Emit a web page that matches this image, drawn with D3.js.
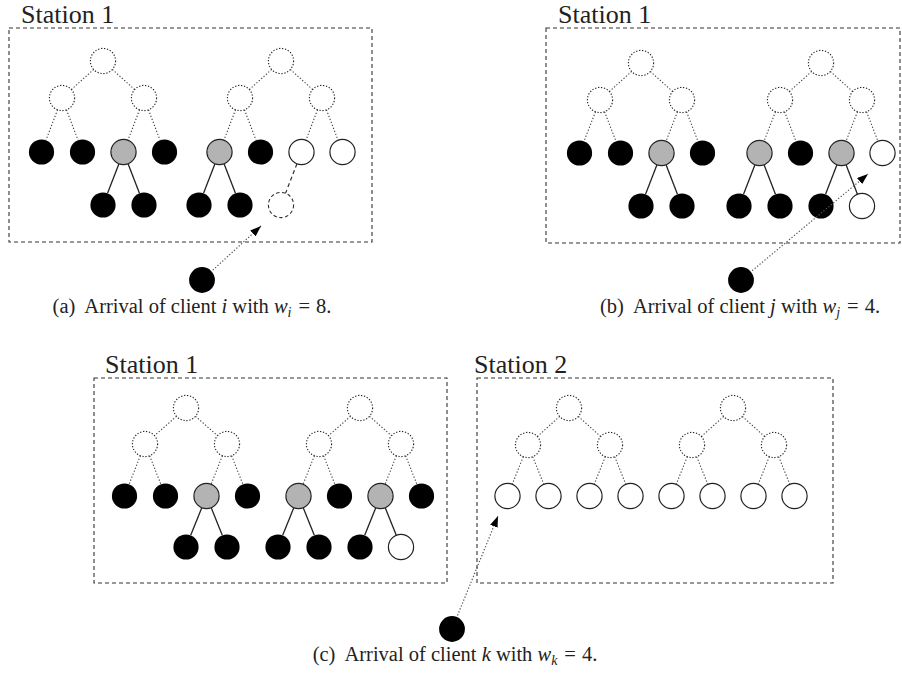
<html>
<head>
<script src="https://cdnjs.cloudflare.com/ajax/libs/d3/7.8.5/d3.min.js"></script>
<style>
body { margin: 0; background: white; }
svg { display: block; }
text { font-family: "Liberation Serif", "DejaVu Serif", serif; fill: #222; }
.box { fill: none; stroke: #333; stroke-width: 1.1; stroke-dasharray: 4 3; }
.upper { fill: white; stroke: #222; stroke-width: 1.1; stroke-dasharray: 1.3 1.7; }
.dots { stroke: #444; stroke-width: 1.1; stroke-dasharray: 1.3 1.9; }
.full { fill: black; }
.split { fill: #b3b3b3; stroke: #222; stroke-width: 1.2; }
.free { fill: white; stroke: #222; stroke-width: 1.2; }
.pending { fill: white; stroke: #333; stroke-width: 1.1; stroke-dasharray: 3.5 2.5; }
.solid { stroke: #222; stroke-width: 1.3; }
.dash { stroke: #333; stroke-width: 1.2; stroke-dasharray: 4 3; }
.arrow { stroke: #555; stroke-width: 1.2; stroke-dasharray: 1.3 1.9; fill: none; }
</style>
</head>
<body>
<svg width="902" height="683" id="fig"></svg>
<script>
// leaf state of each station, two trees of four leaves
var leavesA  = ['full', 'full', 'split', 'full', 'split', 'full', 'free', 'free'];
var leavesB  = ['full', 'full', 'split', 'full', 'split', 'full', 'split', 'free'];
var leavesC1 = ['full', 'full', 'split', 'full', 'split', 'full', 'split', 'full'];
var leavesC2 = ['free', 'free', 'free', 'free', 'free', 'free', 'free', 'free'];

// children hanging under a leaf, [left, right]
var kidsA  = [null, null, ['full', 'full'], null, ['full', 'full'], null, ['pending', null], null];
var kidsB  = [null, null, ['full', 'full'], null, ['full', 'full'], null, ['full', 'free'], null];
var kidsC1 = kidsB;
var kidsC2 = [null, null, null, null, null, null, null, null];

var stationNames = ['Station 1', 'Station 1', 'Station 1', 'Station 2'];
var captionTags = ['a', 'b', 'c'];
var clientNames = ['i', 'j', 'k'];
var clientWeights = [8, 4, 4];

var svg = d3.select('#fig');
var R = 12.6;
var unit = d3.scaleLinear().domain([0, 1]).range([0, 20.5]);

svg.append('defs').append('marker')
    .attr('id', 'head')
    .attr('markerUnits', 'userSpaceOnUse')
    .attr('markerWidth', 11).attr('markerHeight', 8)
    .attr('refX', 11).attr('refY', 4)
    .attr('orient', 'auto')
  .append('path')
    .attr('d', 'M0,0 L11,4 L0,8 Z')
    .attr('fill', 'black');

var stations = [
  {box: [9, 28, 363, 214], label: [21, 23], roots: [103, 281], levels: [61, 98, 152, 205],
   leaves: leavesA, kids: kidsA, name: stationNames[0]},
  {box: [546, 28, 354, 215], label: [558, 23], roots: [641, 821], levels: [63, 100, 153, 206],
   leaves: leavesB, kids: kidsB, name: stationNames[1]},
  {box: [94, 378, 353, 205], label: [105, 373], roots: [186, 360], levels: [408, 444, 496, 547],
   leaves: leavesC1, kids: kidsC1, name: stationNames[2]},
  {box: [477, 378, 356, 205], label: [474, 373], roots: [569, 733], levels: [408, 445, 496, 547],
   leaves: leavesC2, kids: kidsC2, name: stationNames[3]}
];

function seg(g, a, b, cls) {
  var dx = b[0] - a[0], dy = b[1] - a[1];
  var len = Math.sqrt(dx * dx + dy * dy);
  var ux = dx / len, uy = dy / len;
  g.append('line')
    .attr('class', cls)
    .attr('x1', a[0] + ux * R).attr('y1', a[1] + uy * R)
    .attr('x2', b[0] - ux * R).attr('y2', b[1] - uy * R);
}

stations.forEach(function(s) {
  var g = svg.append('g');
  var x = d3.scaleLinear().domain([0, 1]).range(s.roots);
  var y = d3.scaleOrdinal().domain(['root', 'mid', 'leaf', 'kid']).range(s.levels);

  g.append('rect').attr('class', 'box')
    .attr('x', s.box[0]).attr('y', s.box[1])
    .attr('width', s.box[2]).attr('height', s.box[3]);
  g.append('text')
    .attr('x', s.label[0]).attr('y', s.label[1])
    .style('font-size', '26px')
    .text(s.name);

  var edges = g.append('g'), nodes = g.append('g');

  [0, 1].forEach(function(t) {
    var root = [x(t), y('root')];
    [-2, 2].forEach(function(m, mi) {
      var mid = [x(t) + unit(m), y('mid')];
      seg(edges, root, mid, 'dots');
      [-1, 1].forEach(function(l, li) {
        var k = t * 4 + mi * 2 + li;
        var leaf = [mid[0] + unit(l), y('leaf')];
        seg(edges, mid, leaf, 'dots');
        nodes.append('circle').attr('class', s.leaves[k])
          .attr('cx', leaf[0]).attr('cy', leaf[1]).attr('r', R);
        if (s.kids[k]) {
          s.kids[k].forEach(function(state, ci) {
            if (!state) return;
            var kid = [leaf[0] + unit(ci ? 1 : -1), y('kid')];
            seg(edges, leaf, kid, state === 'pending' ? 'dash' : 'solid');
            nodes.append('circle').attr('class', state)
              .attr('cx', kid[0]).attr('cy', kid[1]).attr('r', R);
          });
        }
      });
      nodes.append('circle').attr('class', 'upper')
        .attr('cx', mid[0]).attr('cy', mid[1]).attr('r', R);
    });
    nodes.append('circle').attr('class', 'upper')
      .attr('cx', root[0]).attr('cy', root[1]).attr('r', R);
  });
});

// arriving clients: where they wait and where the arrow points
var clientSpots = [[202, 280], [741, 280], [452, 629]];
var arrowTips = [[261, 226], [868, 174], [498, 516]];

clientSpots.forEach(function(c, i) {
  var tip = arrowTips[i];
  var dx = tip[0] - c[0], dy = tip[1] - c[1];
  var len = Math.sqrt(dx * dx + dy * dy);
  svg.append('line').attr('class', 'arrow')
    .attr('x1', c[0] + dx / len * (R + 2)).attr('y1', c[1] + dy / len * (R + 2))
    .attr('x2', tip[0]).attr('y2', tip[1])
    .attr('marker-end', 'url(#head)');
  svg.append('circle').attr('class', 'full')
    .attr('cx', c[0]).attr('cy', c[1]).attr('r', R + 0.3);
});

var captionSpots = [[192, 313], [740, 313], [455, 661]];
captionTags.forEach(function(tag, i) {
  var t = svg.append('text')
    .attr('x', captionSpots[i][0]).attr('y', captionSpots[i][1])
    .attr('text-anchor', 'middle')
    .style('font-size', '20.5px');
  t.append('tspan').text('(' + tag + ')');
  t.append('tspan').attr('dx', 9).text('Arrival of client ');
  t.append('tspan').style('font-style', 'italic').text(clientNames[i]);
  t.append('tspan').text(' with ');
  t.append('tspan').style('font-style', 'italic').text('w');
  t.append('tspan').style('font-style', 'italic').style('font-size', '14px')
    .attr('dy', 4).text(clientNames[i]);
  t.append('tspan').attr('dy', -4).attr('dx', 7).text('=');
  t.append('tspan').attr('dx', 6).text(clientWeights[i] + '.');
});
</script>
</body>
</html>
